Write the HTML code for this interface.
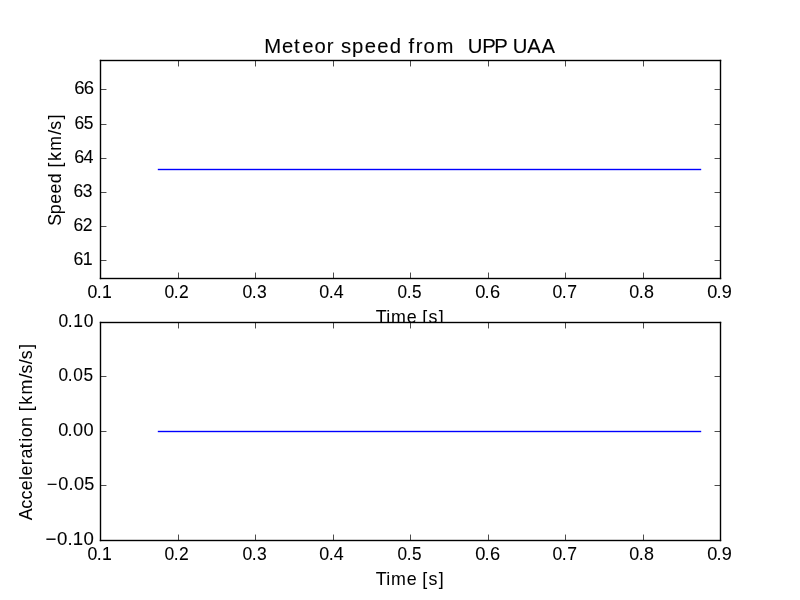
<!DOCTYPE html>
<html><head><meta charset="utf-8"><title>Meteor speed</title>
<style>html,body{margin:0;padding:0;background:#fff;width:800px;height:600px;overflow:hidden}
svg{will-change:transform}
text{font-family:"Liberation Sans",sans-serif;fill:#000;white-space:pre}</style></head>
<body>
<svg width="800" height="600" viewBox="0 0 800 600" style="display:block;position:absolute;left:0;top:0">
<rect x="0" y="0" width="800" height="600" fill="#fff"/>
<rect x="157.8" y="168.805" width="543.40" height="1.39" fill="#00f"/>
<rect x="99.805" y="59.805" width="1.39" height="219.39"/>
<rect x="719.805" y="59.805" width="1.39" height="219.39"/>
<rect x="99.805" y="59.805" width="621.39" height="1.39"/>
<rect x="99.805" y="277.805" width="621.39" height="1.39"/>
<rect x="178.150" y="60.5" width="0.7" height="5.96"/><rect x="178.150" y="272.54" width="0.7" height="5.96"/>
<rect x="255.150" y="60.5" width="0.7" height="5.96"/><rect x="255.150" y="272.54" width="0.7" height="5.96"/>
<rect x="333.150" y="60.5" width="0.7" height="5.96"/><rect x="333.150" y="272.54" width="0.7" height="5.96"/>
<rect x="410.150" y="60.5" width="0.7" height="5.96"/><rect x="410.150" y="272.54" width="0.7" height="5.96"/>
<rect x="488.150" y="60.5" width="0.7" height="5.96"/><rect x="488.150" y="272.54" width="0.7" height="5.96"/>
<rect x="565.150" y="60.5" width="0.7" height="5.96"/><rect x="565.150" y="272.54" width="0.7" height="5.96"/>
<rect x="643.150" y="60.5" width="0.7" height="5.96"/><rect x="643.150" y="272.54" width="0.7" height="5.96"/>
<rect x="100.5" y="89.150" width="5.96" height="0.7"/><rect x="714.54" y="89.150" width="5.96" height="0.7"/>
<rect x="100.5" y="124.150" width="5.96" height="0.7"/><rect x="714.54" y="124.150" width="5.96" height="0.7"/>
<rect x="100.5" y="158.150" width="5.96" height="0.7"/><rect x="714.54" y="158.150" width="5.96" height="0.7"/>
<rect x="100.5" y="192.150" width="5.96" height="0.7"/><rect x="714.54" y="192.150" width="5.96" height="0.7"/>
<rect x="100.5" y="226.150" width="5.96" height="0.7"/><rect x="714.54" y="226.150" width="5.96" height="0.7"/>
<rect x="100.5" y="260.150" width="5.96" height="0.7"/><rect x="714.54" y="260.150" width="5.96" height="0.7"/>
<text transform="translate(266.18 52.84) scale(0.9942 1)" x="-2.04 15.97 27.88 36.29 48.63 60.87 68.76 75.20 86.28 99.04 111.71 124.40 136.12 143.25 150.53 158.15 171.36 189.39 195.80 202.71 217.33 229.49 241.29 247.95 262.53 276.83" y="0" font-size="20.40" stroke="#000" stroke-width="0.11">Meteor speed from  UPP UAA</text>
<text transform="translate(375.94 323.30) scale(1.0098 1)" x="-0.30 10.24 14.99 30.58 40.56 45.92 52.02 62.30" y="0" font-size="17.67" stroke="#000" stroke-width="0.03">Time [s]</text>
<text transform="translate(60.71 223.26) rotate(-90) scale(1.0037 1)" x="-2.62 9.06 19.54 29.68 39.85 50.54 55.66 61.96 72.26 88.14 93.13 103.37" y="0" font-size="17.67" stroke="#000" stroke-width="0.03">Speed [km/s]</text>
<text transform="translate(88.07 298.18) scale(0.9778 1)" x="-0.48 8.80 14.13" y="0" font-size="18.08" stroke="#000" stroke-width="0.07">0.1</text>
<text transform="translate(165.00 298.10) scale(0.9810 1)" x="-0.42 8.88 14.40" y="0" font-size="17.82" stroke="#000" stroke-width="0.07">0.2</text>
<text transform="translate(243.05 297.75) scale(0.9790 1)" x="-0.45 8.87 14.35" y="0" font-size="17.95" stroke="#000" stroke-width="0.07">0.3</text>
<text transform="translate(320.11 298.13) scale(0.9969 1)" x="-0.77 8.72 13.70" y="0" font-size="17.93" stroke="#000" stroke-width="0.07">0.4</text>
<text transform="translate(397.98 297.85) scale(0.9715 1)" x="-0.60 8.98 14.47" y="0" font-size="17.70" stroke="#000" stroke-width="0.07">0.5</text>
<text transform="translate(476.31 297.70) scale(1.0124 1)" x="-1.11 8.06 13.41" y="0" font-size="18.03" stroke="#000" stroke-width="0.07">0.6</text>
<text transform="translate(553.06 297.81) scale(0.9873 1)" x="-0.46 8.93 14.25" y="0" font-size="17.86" stroke="#000" stroke-width="0.07">0.7</text>
<text transform="translate(630.20 298.04) scale(1.0017 1)" x="-1.03 8.50 13.74" y="0" font-size="17.87" stroke="#000" stroke-width="0.07">0.8</text>
<text transform="translate(708.20 297.73) scale(1.0115 1)" x="-0.83 8.11 13.45" y="0" font-size="17.92" stroke="#000" stroke-width="0.07">0.9</text>
<text transform="translate(73.99 265.09) scale(0.9909 1)" x="-0.57 8.80" y="0" font-size="17.95" stroke="#000" stroke-width="0.07">61</text>
<text transform="translate(73.93 230.56) scale(0.9941 1)" x="-0.49 8.83" y="0" font-size="17.62" stroke="#000" stroke-width="0.07">62</text>
<text transform="translate(73.83 197.19) scale(0.9916 1)" x="-0.46 9.08" y="0" font-size="17.55" stroke="#000" stroke-width="0.07">63</text>
<text transform="translate(75.04 163.33) scale(1.0112 1)" x="-0.85 8.27" y="0" font-size="17.76" stroke="#000" stroke-width="0.07">64</text>
<text transform="translate(74.87 128.57) scale(0.9833 1)" x="-0.48 8.93" y="0" font-size="17.76" stroke="#000" stroke-width="0.07">65</text>
<text transform="translate(75.11 94.09) scale(1.0293 1)" x="-0.76 8.46" y="0" font-size="18.05" stroke="#000" stroke-width="0.07">66</text>
<rect x="100" y="322" width="621" height="218" fill="#fff"/>
<rect x="157.8" y="430.805" width="543.40" height="1.39" fill="#00f"/>
<rect x="99.805" y="321.805" width="1.39" height="219.39"/>
<rect x="719.805" y="321.805" width="1.39" height="219.39"/>
<rect x="99.805" y="321.805" width="621.39" height="1.39"/>
<rect x="99.805" y="539.805" width="621.39" height="1.39"/>
<rect x="178.150" y="322.5" width="0.7" height="5.96"/><rect x="178.150" y="534.54" width="0.7" height="5.96"/>
<rect x="255.150" y="322.5" width="0.7" height="5.96"/><rect x="255.150" y="534.54" width="0.7" height="5.96"/>
<rect x="333.150" y="322.5" width="0.7" height="5.96"/><rect x="333.150" y="534.54" width="0.7" height="5.96"/>
<rect x="410.150" y="322.5" width="0.7" height="5.96"/><rect x="410.150" y="534.54" width="0.7" height="5.96"/>
<rect x="488.150" y="322.5" width="0.7" height="5.96"/><rect x="488.150" y="534.54" width="0.7" height="5.96"/>
<rect x="565.150" y="322.5" width="0.7" height="5.96"/><rect x="565.150" y="534.54" width="0.7" height="5.96"/>
<rect x="643.150" y="322.5" width="0.7" height="5.96"/><rect x="643.150" y="534.54" width="0.7" height="5.96"/>
<rect x="100.5" y="376.150" width="5.96" height="0.7"/><rect x="714.54" y="376.150" width="5.96" height="0.7"/>
<rect x="100.5" y="431.150" width="5.96" height="0.7"/><rect x="714.54" y="431.150" width="5.96" height="0.7"/>
<rect x="100.5" y="485.150" width="5.96" height="0.7"/><rect x="714.54" y="485.150" width="5.96" height="0.7"/>
<text transform="translate(375.94 585.30) scale(1.0098 1)" x="-0.30 10.24 14.99 30.58 40.56 45.92 52.02 62.30" y="0" font-size="17.67" stroke="#000" stroke-width="0.03">Time [s]</text>
<text transform="translate(31.58 519.54) rotate(-90) scale(1.0064 1)" x="-0.61 10.85 19.93 29.04 39.32 43.79 54.02 60.57 70.90 77.22 81.87 91.94 102.52 107.64 113.96 124.27 140.19 145.19 154.36 159.36 169.37" y="0" font-size="17.67" stroke="#000" stroke-width="0.03">Acceleration [km/s/s]</text>
<text transform="translate(88.07 560.18) scale(0.9778 1)" x="-0.48 8.80 14.13" y="0" font-size="18.08" stroke="#000" stroke-width="0.07">0.1</text>
<text transform="translate(165.00 560.10) scale(0.9810 1)" x="-0.42 8.88 14.40" y="0" font-size="17.82" stroke="#000" stroke-width="0.07">0.2</text>
<text transform="translate(243.05 559.75) scale(0.9790 1)" x="-0.45 8.87 14.35" y="0" font-size="17.95" stroke="#000" stroke-width="0.07">0.3</text>
<text transform="translate(320.11 560.13) scale(0.9969 1)" x="-0.77 8.72 13.70" y="0" font-size="17.93" stroke="#000" stroke-width="0.07">0.4</text>
<text transform="translate(397.98 559.85) scale(0.9715 1)" x="-0.60 8.98 14.47" y="0" font-size="17.70" stroke="#000" stroke-width="0.07">0.5</text>
<text transform="translate(476.31 559.70) scale(1.0124 1)" x="-1.11 8.06 13.41" y="0" font-size="18.03" stroke="#000" stroke-width="0.07">0.6</text>
<text transform="translate(553.06 559.81) scale(0.9873 1)" x="-0.46 8.93 14.25" y="0" font-size="17.86" stroke="#000" stroke-width="0.07">0.7</text>
<text transform="translate(630.20 560.04) scale(1.0017 1)" x="-1.03 8.50 13.74" y="0" font-size="17.87" stroke="#000" stroke-width="0.07">0.8</text>
<text transform="translate(708.20 559.73) scale(1.0115 1)" x="-0.83 8.11 13.45" y="0" font-size="17.92" stroke="#000" stroke-width="0.07">0.9</text>
<text transform="translate(44.86 544.88) scale(1.0405 1)" x="0.51 11.64 21.84 26.81 37.17" y="0" font-size="17.89" stroke="#000" stroke-width="0.07">−0.10</text>
<text transform="translate(45.92 490.03) scale(1.0359 1)" x="0.89 11.95 21.79 27.14 37.05" y="0" font-size="17.50" stroke="#000" stroke-width="0.07">−0.05</text>
<text transform="translate(59.15 435.97) scale(0.9961 1)" x="-0.87 8.32 13.96 24.51" y="0" font-size="18.27" stroke="#000" stroke-width="0.07">0.00</text>
<text transform="translate(59.05 380.90) scale(0.9787 1)" x="-0.62 8.87 14.49 24.94" y="0" font-size="17.67" stroke="#000" stroke-width="0.07">0.05</text>
<text transform="translate(59.04 326.63) scale(0.9832 1)" x="-0.67 8.96 14.51 25.21" y="0" font-size="17.77" stroke="#000" stroke-width="0.07">0.10</text>
</svg>
</body></html>
